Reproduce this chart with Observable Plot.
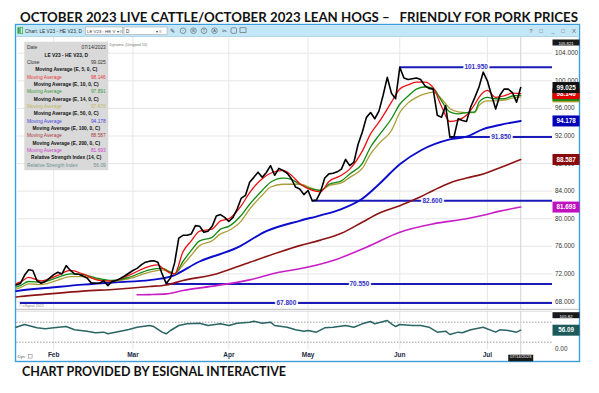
<!DOCTYPE html>
<html><head><meta charset="utf-8">
<script src="https://cdn.jsdelivr.net/npm/d3@7"></script>
<script src="https://cdn.jsdelivr.net/npm/@observablehq/plot@0.6"></script>
<style>
html,body{margin:0;padding:0;background:#fff}
body{width:599px;height:393px;overflow:hidden;position:relative;font-family:"Liberation Sans",Arial,sans-serif}
svg.layer{position:absolute;left:0;top:0}
#price{position:absolute;left:16px;top:37px}
#rsi{position:absolute;left:16px;top:311px}
</style></head><body>
<svg id="bg" class="layer" width="599" height="393"></svg>
<div id="price"></div>
<div id="rsi"></div>
<svg id="fg" class="layer" width="599" height="393"></svg>
<script>
// ---------------- DATA ----------------
const titleText = "OCTOBER 2023 LIVE CATTLE/OCTOBER 2023 LEAN HOGS \u2013   FRIENDLY FOR PORK PRICES";
const captionText = "CHART PROVIDED BY ESIGNAL INTERACTIVE";
const symbolText = "LE V23 - HE V23, D";
const lastDate = "07/14/2023";

// daily closes of the spread, one per trading bar (index 0 = Jan 19 2023 ... 121 = Jul 14 2023)
const closeVals = [
70.4, 70.6, 71.8, 72.6, 72.5, 71.0, 70.65, 70.9, 71.4, 71.9,
72.25, 72.0, 73.2, 72.5, 72.0, 71.95, 71.7, 71.4, 70.7, 70.65,
70.65, 71.0, 70.3, 70.9, 71.05, 71.35, 71.7, 72.1, 72.5, 72.8,
73.3, 73.7, 73.85, 73.9, 73.7, 72.0, 70.6, 71.4, 73.6, 77.2,
77.6, 77.6, 77.8, 79.0, 78.9, 78.05, 78.2, 78.9, 80.4, 80.6,
80.2, 79.6, 80.2, 81.4, 83.0, 83.4, 85.3, 86.0, 86.75, 86.0,
86.7, 87.7, 86.3, 87.3, 87.0, 86.6, 85.8, 84.6, 84.3, 83.5,
84.1, 82.6, 82.7, 83.9, 85.9, 86.5, 86.6, 86.8, 87.2, 88.6,
87.7, 88.2, 90.8, 92.55, 94.7, 95.4, 94.5, 95.6, 97.9, 100.5,
98.2, 97.4, 101.95, 100.4, 100.2, 100.3, 100.4, 100.2, 99.3, 98.9,
98.8, 95.0, 94.7, 96.4, 91.85, 91.9, 94.5, 94.25, 94.1, 96.2,
97.6, 99.1, 101.25, 100.0, 97.9, 95.9, 97.9, 98.8, 98.8, 98.3,
96.9, 99.025
];

// moving averages as [bar index, value]
const ema5 = [[0,70.6],[1,70.8],[3,71.5],[6,71.0],[10,71.8],[13,72.5],[16,72.0],[20,71.05],[23,70.95],[27,71.8],[32,73.1],[34,73.3],[35,72.9],[37,72.1],[38,72.0],[40,75.2],[42,76.8],[44,78.2],[47,78.5],[49,79.7],[51,80.0],[54,81.9],[56,83.8],[59,85.8],[61,86.6],[64,87.0],[66,86.3],[68,85.1],[71,84.1],[73,83.9],[75,85.4],[78,86.3],[80,87.2],[83,89.8],[85,92.3],[87,94.0],[90,96.9],[92,98.8],[94,99.4],[96,99.8],[98,99.8],[100,99.0],[102,96.3],[104,94.1],[106,94.3],[108,95.0],[110,96.6],[111,97.6],[113,98.6],[115,97.6],[117,97.8],[119,98.2],[121,98.146]];
const ema10 = [[0,70.1],[1,70.3],[3,70.9],[6,70.8],[10,71.5],[13,72.0],[16,71.9],[20,71.3],[23,71.05],[27,71.5],[32,72.6],[35,72.8],[37,72.25],[38,72.0],[40,73.8],[42,75.4],[44,76.8],[47,77.3],[49,78.5],[51,78.9],[54,80.5],[56,82.1],[59,84.1],[61,85.3],[64,85.9],[66,85.7],[68,85.0],[71,84.3],[73,84.1],[75,85.0],[78,85.5],[80,86.5],[83,88.0],[85,90.4],[87,92.1],[90,94.5],[92,96.6],[94,97.8],[96,98.8],[98,99.1],[100,98.9],[102,97.1],[104,95.5],[106,95.2],[108,95.4],[110,95.5],[111,96.9],[113,97.6],[115,97.4],[117,97.4],[119,97.8],[121,97.891]];
const ema14 = [[0,69.8],[1,70.0],[3,70.55],[6,70.45],[10,71.1],[13,71.6],[16,71.6],[20,71.15],[23,70.95],[27,71.3],[32,72.25],[35,72.6],[37,72.25],[38,72.0],[40,73.3],[42,74.7],[44,76.1],[47,76.8],[49,77.8],[51,78.3],[54,79.7],[56,81.4],[59,83.4],[61,84.6],[64,85.0],[66,85.0],[68,85.0],[71,84.4],[73,84.1],[75,84.8],[78,85.2],[80,86.0],[83,87.3],[85,89.4],[87,90.9],[90,92.8],[92,95.4],[94,96.8],[96,97.6],[98,98.1],[100,98.35],[102,97.4],[104,96.0],[106,95.5],[108,95.4],[110,95.4],[111,96.4],[113,97.1],[115,97.1],[117,97.2],[119,97.5],[121,97.670]];
const ema50 = [[0,69.5],[1,69.6],[8,70.0],[16,70.45],[24,70.8],[32,71.1],[37,71.6],[44,73.8],[53,75.8],[60,78.2],[68,79.7],[73,80.5],[78,81.4],[83,82.9],[87,85.0],[92,87.9],[97,89.9],[104,91.5],[108,91.9],[112,93.0],[116,93.6],[121,94.178]];
const ema100 = [[0,68.65],[1,68.72],[8,69.1],[16,69.5],[24,69.78],[32,70.17],[36,70.4],[40,71.04],[48,72.0],[55,73.47],[63,75.14],[68,76.1],[73,76.9],[78,77.9],[83,79.5],[87,80.8],[92,81.9],[94,82.4],[97,83.2],[100,84.1],[104,85.2],[108,85.9],[112,86.5],[116,87.4],[121,88.587]];
const ema200 = [[29,68.97],[32,69.0],[36,69.1],[40,69.6],[48,70.3],[56,71.14],[63,72.25],[68,72.74],[76,73.94],[84,75.87],[92,78.05],[100,79.26],[108,80.0],[112,80.5],[116,81.1],[121,81.693]];

// relative strength index (14) as [bar index, value]
const rsiPts = [[0,65.0],[2,73.1],[5,63.2],[7,60.2],[9,63.2],[12,67.1],[14,57.2],[17,53.1],[19,48.2],[21,50.2],[22,45.2],[25,53.1],[27,58.1],[29,65.0],[32,70.1],[33,67.1],[35,50.2],[36,45.2],[37,55.2],[39,70.1],[41,75.1],[44,77.1],[46,70.1],[49,75.1],[51,70.1],[53,77.1],[56,80.1],[57,83.1],[59,77.1],[61,80.1],[62,70.1],[65,65.0],[67,57.2],[69,53.1],[70,55.2],[72,50.2],[74,63.2],[76,65.0],[79,70.1],[81,65.0],[83,75.1],[85,82.1],[86,75.1],[89,85.1],[90,75.1],[91,67.1],[92,73.1],[95,70.1],[97,70.1],[99,65.0],[101,50.2],[103,53.1],[104,43.2],[106,50.2],[107,48.2],[109,57.2],[112,65.0],[115,50.2],[116,57.2],[118,55.2],[120,50.2],[121,56.09]];
const rsiLevels = [80, 20];
const rsiTop = 105.82;

// support / resistance levels and the bar each line starts from
const levelValues = [101.95, 91.85, 82.6, 70.55, 67.8];
const levelStart = [92, 104, 71, 36, 1];

// axes
const priceTicks = [104, 100, 96, 92, 88, 84, 80, 76, 72, 68];
const monthLabels = ["Feb", "Mar", "Apr", "May", "Jun", "Jul"];
const monthIdx = [9, 28, 51, 70, 92, 113];
const lastIdx = 121;
const priceTop = 105.821;

// last values shown in the legend and the price tags
const lastClose = 99.025;
const maNames = ["Moving Average (E, 5, 0, C)", "Moving Average (E, 10, 0, C)", "Moving Average (E, 14, 0, C)", "Moving Average (E, 50, 0, C)", "Moving Average (E, 100, 0, C)", "Moving Average (E, 200, 0, C)"];
const maLast = [98.146, 97.891, 97.670, 94.178, 88.587, 81.693];
const rsiName = "Relative Strength Index (14, C)";
const rsiLast = 56.09;

// ---------------- STYLE ----------------
const maColors = ["#ee1111", "#138a13", "#ab9e36", "#0b0bcc", "#8c1414", "#c81ec8"];
const tagColors = ["#e00000", "#128a12", "#a89a30", "#0000b8", "#8a0a0a", "#c010c0"];
const maLegendColors = ["#e83a3a", "#3a9a3a", "#c2b660", "#4646dc", "#b03a3a", "#c844c8"];
const maWidths = [1.3, 1.3, 1.3, 1.9, 1.6, 1.6];
const levelColor = "#1a1ab8";
const rsiColor = "#2a6464";
const gridColor = "#e6e6e6";
const FONT = "'Liberation Sans', Arial, sans-serif";

// pixel geometry of the chart area
const X0 = 15.65, PX = 4.17;             // abs x of bar 0, px per bar
const plotLeft = 16, plotRight = 552;    // abs x of plot area
const xDom = [(plotLeft - X0) / PX, (plotRight - X0) / PX];
const W = 564, MR = 28;
const yDom = [66.84, 106.28];

const closeData = closeVals.map((v, i) => ({i, v}));
const levels = levelValues.map((v, k) => ({v, start: levelStart[k]}));

const tagSym = {draw(ctx) { ctx.rect(0, -5.5, 27, 11); }};
const smallTagSym = {draw(ctx) { ctx.rect(0, -3, 27, 6); }};

// tag stack: olive, green (values hidden under the others), red, close, then 50/100/200
const stackTags = [2, 1, 0].map(k => ({v: maLast[k], c: tagColors[k], show: k === 0}))
  .concat([{v: lastClose, c: "#111", show: true}]);
const lowerTags = [3, 4, 5].map(k => ({v: maLast[k], c: tagColors[k], show: true}));
const priceTags = stackTags.concat(lowerTags);

const maSeries = [ema200, ema100, ema50, ema14, ema10, ema5];
const maOrder = [5, 4, 3, 2, 1, 0];

const price = Plot.plot({
  width: W, height: 272,
  marginLeft: 0, marginRight: MR, marginTop: 0, marginBottom: 0,
  style: {background: "transparent", overflow: "visible", fontFamily: FONT},
  x: {domain: xDom, axis: null},
  y: {domain: yDom, axis: null},
  marks: [
    Plot.gridY(priceTicks, {stroke: gridColor, strokeOpacity: 1}),
    Plot.gridX(monthIdx, {stroke: gridColor, strokeOpacity: 1}),
    Plot.ruleX([lastIdx], {stroke: "#d2d2d2"}),
    Plot.ruleY(levels, {y: "v", x1: "start", x2: () => xDom[1], stroke: levelColor, strokeWidth: 2}),
    Plot.text(levels, {x: d => (d.start + xDom[1]) / 2, y: "v", text: d => d3.format(".3f")(d.v),
      fill: "#3030c8", stroke: "white", strokeWidth: 3.5, fontSize: 6.5, fontWeight: "bold"}),
    ...maSeries.map((s, k) => Plot.line(s, {x: d => d[0], y: d => d[1], curve: "monotone-x",
      stroke: maColors[maOrder[k]], strokeWidth: maWidths[maOrder[k]]})),
    Plot.line(closeData, {x: "i", y: "v", stroke: "#000", strokeWidth: 1.6}),
    Plot.axisY(priceTicks, {anchor: "right", tickSize: 0, tickPadding: 2.5, tickFormat: d3.format(".3f"),
      fontSize: 6.4, fill: "#333"}),
    Plot.dot([priceTop], {x: () => xDom[1], frameAnchor: "top", dy: 5, symbol: smallTagSym, fill: "#1a1a1a", stroke: null}),
    Plot.text([priceTop], {x: () => xDom[1], frameAnchor: "top", dy: 5, dx: 13.5, text: d => d3.format(".3f")(d), fill: "white", fontSize: 4.2}),
    ...priceTags.flatMap(t => [
      Plot.dot([t], {x: () => xDom[1], y: "v", symbol: tagSym, fill: t.c, stroke: null}),
      ...(t.show ? [Plot.text([t], {x: () => xDom[1], y: "v", dx: 13.5, text: d => d3.format(".3f")(d.v), fill: "white", fontSize: 6.3, fontWeight: "bold"})] : [])
    ])
  ]
});
document.getElementById("price").appendChild(price);

const rsi = Plot.plot({
  width: W, height: 50,
  marginLeft: 0, marginRight: MR, marginTop: 0, marginBottom: 12,
  style: {background: "transparent", overflow: "visible", fontFamily: FONT},
  x: {domain: xDom, axis: null},
  y: {domain: [-1.8, 112.1], axis: null},
  marks: [
    Plot.gridX(monthIdx, {stroke: gridColor, strokeOpacity: 1}),
    Plot.ruleY(rsiLevels, {stroke: "#a0a0a0", strokeDasharray: "1.5,1.5"}),
    Plot.ruleX([lastIdx], {stroke: "#d2d2d2", insetBottom: -6}),
    Plot.line(rsiPts, {x: d => d[0], y: d => d[1], stroke: rsiColor, strokeWidth: 1.5}),
    Plot.axisX(monthIdx, {tickSize: 0, tickPadding: 2.5, tickFormat: d => monthLabels[monthIdx.indexOf(d)],
      fontSize: 6.5, fontWeight: "bold", fill: "#1c2a44"}),
    Plot.axisY([0], {anchor: "right", tickSize: 0, tickPadding: 2.5, tickFormat: d3.format(".2f"), fontSize: 6.4, fill: "#333"}),
    Plot.dot([rsiTop], {x: () => xDom[1], frameAnchor: "top", dy: 3.7, symbol: smallTagSym, fill: "#1a1a1a", stroke: null}),
    Plot.text([rsiTop], {x: () => xDom[1], frameAnchor: "top", dy: 3.7, dx: 13.5, text: d => d3.format(".2f")(d), fill: "white", fontSize: 4.3}),
    Plot.dot([rsiLast], {x: () => xDom[1], y: d => d, symbol: tagSym, fill: "#1d5a5a", stroke: null}),
    Plot.text([rsiLast], {x: () => xDom[1], y: d => d, dx: 13.5, text: d => d3.format(".2f")(d), fill: "white", fontSize: 6.3, fontWeight: "bold"}),
    Plot.dot([lastIdx], {x: d => d, frameAnchor: "bottom", dy: 8.5, symbol: {draw(ctx){ctx.rect(-12.5,-3.3,25,6.6);}}, fill: "#1a1a1a", stroke: null}),
    Plot.text([lastDate], {x: () => lastIdx, frameAnchor: "bottom", dy: 8.5, text: d => d, fill: "white", fontSize: 4.3})
  ]
});
document.getElementById("rsi").appendChild(rsi);

// ---------------- FRAME, TITLE, LEGEND ----------------
const NS = "http://www.w3.org/2000/svg";
function el(parent, tag, attrs, text) {
  const e = document.createElementNS(NS, tag);
  for (const k in attrs) e.setAttribute(k, attrs[k]);
  if (text != null) e.textContent = text;
  parent.appendChild(e);
  return e;
}
function squeeze(t, f) { // condense a text horizontally, like the narrow font of the original
  const len = t.getComputedTextLength();
  if (len > 0) { t.setAttribute("textLength", (len * f).toFixed(2)); t.setAttribute("lengthAdjust", "spacingAndGlyphs"); }
  return t;
}
const bg = document.getElementById("bg");
const fg = document.getElementById("fg");

// frame and toolbar
el(bg, "rect", {x: 15.5, y: 24.5, width: 564, height: 337, fill: "#fff", stroke: "#3d9ddd", "stroke-width": 1.4});
el(bg, "rect", {x: 16.2, y: 25.2, width: 562.6, height: 11, fill: "#c4e7f8"});
el(bg, "line", {x1: 16, x2: 579, y1: 36.5, y2: 36.5, stroke: "#9fcbe3", "stroke-width": 0.8});

// panel separators and eSignal mark
el(fg, "line", {x1: 16, x2: 579, y1: 309.3, y2: 309.3, stroke: "#a8a8a8", "stroke-width": 0.8});
el(fg, "line", {x1: 16, x2: 552, y1: 311.2, y2: 311.2, stroke: "#d0d0d0", "stroke-width": 0.8});
el(fg, "text", {x: 19, y: 307, "font-size": 3.6, fill: "#888", "font-family": FONT}, "\u00a9 eSignal 2023");

// toolbar contents
el(fg, "rect", {x: 17.5, y: 27.3, width: 2.2, height: 6.4, fill: "#2fa82f"});
el(fg, "rect", {x: 20.5, y: 27.3, width: 2.2, height: 6.4, fill: "none", stroke: "#2fa82f", "stroke-width": 0.6});
el(fg, "text", {x: 25, y: 32.8, "font-size": 4.8, fill: "#333", "font-family": FONT}, "Chart: LE V23 - HE V23, D");
el(fg, "rect", {x: 85.5, y: 27, width: 37, height: 7.5, fill: "#fff", stroke: "#9a9a9a", "stroke-width": 0.5});
el(fg, "text", {x: 87, y: 32.6, "font-size": 4.4, fill: "#333", "font-family": FONT}, "LE V23 : HE V \u25be \u2261");
el(fg, "rect", {x: 124, y: 27, width: 43, height: 7.5, fill: "#fff", stroke: "#9a9a9a", "stroke-width": 0.5});
el(fg, "text", {x: 126, y: 32.6, "font-size": 4.6, fill: "#333", "font-family": FONT}, "D");
el(fg, "text", {x: 156, y: 32.6, "font-size": 4.4, fill: "#333", "font-family": FONT}, "\u25be \u2261");
el(fg, "text", {x: 170, y: 33, "font-size": 6, fill: "#444", "font-family": FONT}, "\u270e");
[183, 193.5, 204, 214.5].forEach((cx, k) => {
  el(fg, "circle", {cx, cy: 30.7, r: 2.8, fill: "none", stroke: "#555", "stroke-width": 0.6});
  el(fg, "text", {x: cx, y: 32.3, "font-size": 3.8, fill: "#444", "text-anchor": "middle", "font-family": FONT}, ["\u2212", "B", "T", "A"][k]);
});
el(fg, "text", {x: 222, y: 33, "font-size": 6, fill: "#444", "font-family": FONT}, "\u2702");
el(fg, "rect", {x: 231, y: 27.8, width: 5.5, height: 5.5, fill: "none", stroke: "#555", "stroke-width": 0.6, rx: 1});
el(fg, "rect", {x: 240, y: 27.8, width: 6, height: 4.6, fill: "none", stroke: "#555", "stroke-width": 0.6});
[["?", 531], ["\u25a1", 541], ["_", 553], ["\u25a1", 563], ["X", 574]].forEach(([t, x]) =>
  el(fg, "text", {x, y: 33, "font-size": 6, fill: "#666", "text-anchor": "middle", "font-family": FONT}, t));

// Dyn lock at bottom-left
el(fg, "text", {x: 17.5, y: 358, "font-size": 4.2, fill: "#555", "font-family": FONT}, "Dyn");
el(fg, "rect", {x: 28.5, y: 354.5, width: 3.6, height: 3.6, fill: "none", stroke: "#777", "stroke-width": 0.5});

// title and caption
el(fg, "text", {x: 20, y: 21.8, "font-size": 13.6, "font-weight": "bold", fill: "#111", "font-family": "Lato, 'Open Sans', sans-serif",
  textLength: 558, lengthAdjust: "spacingAndGlyphs", style: "white-space:pre"}, titleText);
el(fg, "text", {x: 22, y: 375.6, "font-size": 13.2, "font-weight": "bold", fill: "#111", "font-family": "Lato, 'Open Sans', sans-serif",
  textLength: 264, lengthAdjust: "spacingAndGlyphs"}, captionText);

// small study caption just right of the legend
el(fg, "text", {x: 109.5, y: 45.5, "font-size": 3.8, fill: "#777", "font-family": FONT}, "Dynamic (Untyped 10)");

// legend box
el(fg, "rect", {x: 24.3, y: 41.7, width: 84, height: 128.5, fill: "#d7d7d7", "fill-opacity": 0.96});
const rows = [{l: "Date", r: lastDate}, {c: symbolText}, {l: "Close", r: d3.format(".3f")(lastClose)}];
maNames.forEach((n, k) => { rows.push({c: n}); rows.push({l: "Moving Average", r: d3.format(".3f")(maLast[k]), color: maLegendColors[k]}); });
rows.push({c: rsiName});
rows.push({l: "Relative Strength Index", r: d3.format(".2f")(rsiLast), color: "#6a9090"});
rows.forEach((row, k) => {
  const y = 49.3 + k * 7.33;
  if (row.c) {
    squeeze(el(fg, "text", {x: 66.3, y, "font-size": 5.8, "font-weight": "bold", fill: "#111", "text-anchor": "middle", "font-family": FONT}, row.c), 0.84);
  } else {
    squeeze(el(fg, "text", {x: 27, y, "font-size": 5.8, fill: row.color || "#333", "font-family": FONT}, row.l), 0.84);
    squeeze(el(fg, "text", {x: 105.8, y, "font-size": 5.8, fill: row.color || "#333", "text-anchor": "end", "font-family": FONT}, row.r), 0.84);
  }
});
</script>
</body></html>
